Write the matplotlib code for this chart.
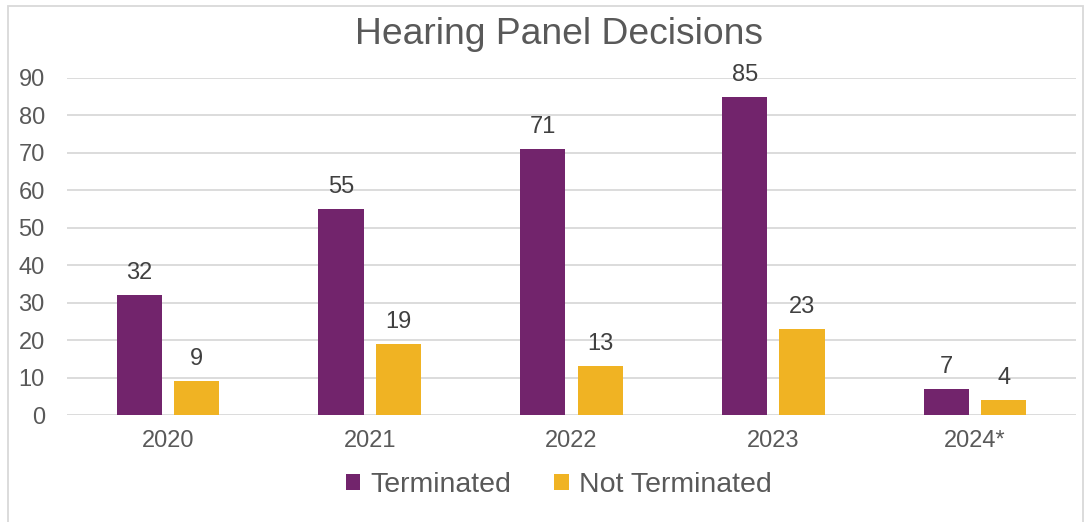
import matplotlib
matplotlib.use("Agg")
import matplotlib.pyplot as plt
from matplotlib.patches import Rectangle
import numpy as np

plt.rcParams['font.family'] = ['Liberation Sans', 'DejaVu Sans']

categories = ["2020", "2021", "2022", "2023", "2024*"]
terminated = [32, 55, 71, 85, 7]
not_terminated = [9, 19, 13, 23, 4]
yticks = [0, 10, 20, 30, 40, 50, 60, 70, 80, 90]

purple = "#72246C"
gold = "#F0B323"
txt = "#595959"

W, H = 1091, 522
fig = plt.figure(figsize=(W / 100, H / 100), dpi=100)
ax = fig.add_axes([67 / W, 1 - 415 / H, (1076 - 67) / W, (415 - 78) / H])

x = np.arange(len(categories))
bw = 0.224
off = 0.142
b1 = ax.bar(x - off, terminated, bw, color=purple, label="Terminated", zorder=3)
b2 = ax.bar(x + off, not_terminated, bw, color=gold, label="Not Terminated", zorder=3)

for bars, vals in ((b1, terminated), (b2, not_terminated)):
    for r, v in zip(bars, vals):
        ax.annotate(str(v), (r.get_x() + r.get_width() / 2, v), xytext=(0, 8),
                    textcoords="offset points", ha="center", va="bottom",
                    fontsize=17, color="#404040")

ax.set_xlim(-0.5, len(categories) - 0.5)
ax.set_ylim(0, 90)
ax.set_yticks(yticks)
ax.set_xticks(x)
ax.set_xticklabels(categories)
ax.tick_params(axis="both", length=0, labelsize=17, labelcolor=txt)
ax.tick_params(axis="y", pad=16)
ax.tick_params(axis="x", pad=11)
ax.yaxis.grid(True, color="#D9D9D9", linewidth=1.3, zorder=0)
for s in ax.spines.values():
    s.set_visible(False)

fig.text(0.512, 1 - 34 / H, "Hearing Panel Decisions", ha="center", va="center",
         fontsize=26.8, color=txt)

leg = fig.legend(handles=[b1, b2], loc="center", bbox_to_anchor=(0.512, 1 - 485 / H),
                 ncol=2, frameon=False, fontsize=20.5, handlelength=0.52, handleheight=0.52,
                 handletextpad=0.35, columnspacing=1.5, labelcolor=txt)

fig.patches.append(Rectangle((8 / W, -0.1), (1083 - 8) / W, 1.1 - 6 / H,
                             transform=fig.transFigure, fill=False,
                             edgecolor="#D9D9D9", linewidth=1.3))

fig.savefig("out.png", dpi=100)
